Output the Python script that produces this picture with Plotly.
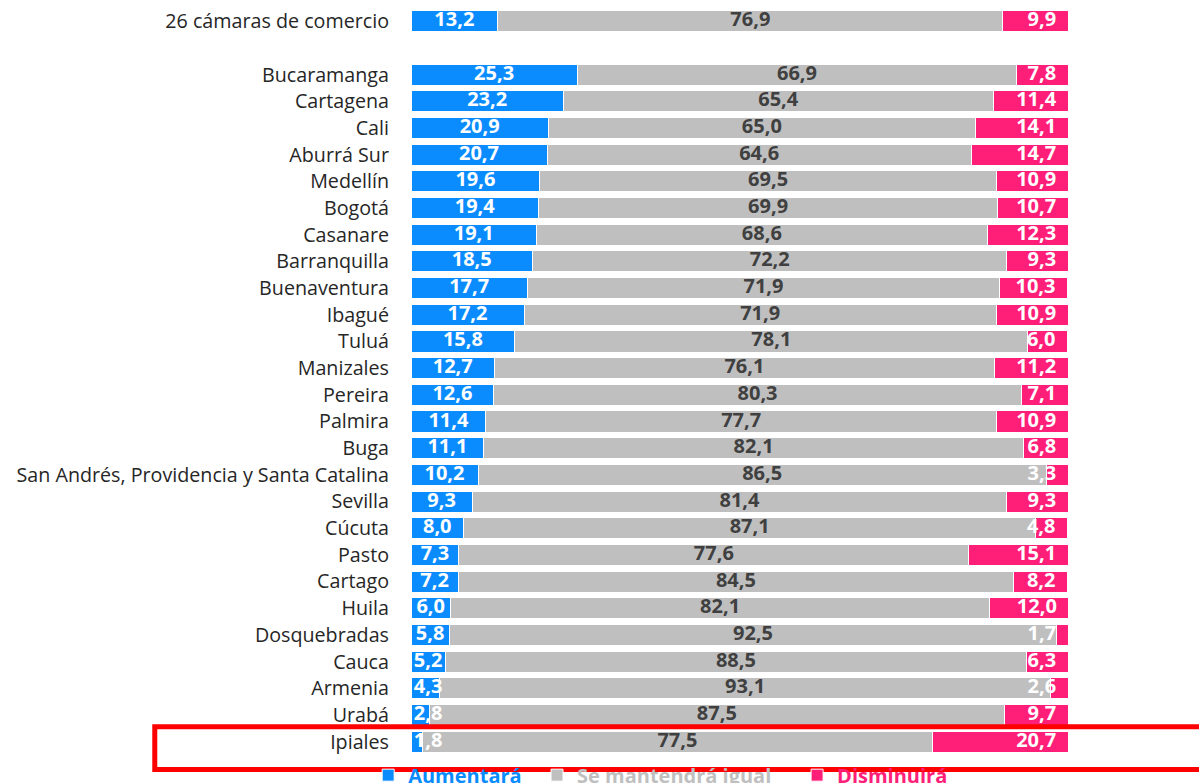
import plotly.graph_objects as go

categorias = ["26 cámaras de comercio", " ", "Bucaramanga", "Cartagena", "Cali", "Aburrá Sur",
              "Medellín", "Bogotá", "Casanare", "Barranquilla", "Buenaventura", "Ibagué",
              "Tuluá", "Manizales", "Pereira", "Palmira", "Buga",
              "San Andrés, Providencia y Santa Catalina", "Sevilla", "Cúcuta", "Pasto",
              "Cartago", "Huila", "Dosquebradas", "Cauca", "Armenia", "Urabá", "Ipiales"]
aumentara = [13.2, None, 25.3, 23.2, 20.9, 20.7, 19.6, 19.4, 19.1, 18.5, 17.7, 17.2, 15.8,
             12.7, 12.6, 11.4, 11.1, 10.2, 9.3, 8.0, 7.3, 7.2, 6.0, 5.8, 5.2, 4.3, 2.8, 1.8]
igual = [76.9, None, 66.9, 65.4, 65.0, 64.6, 69.5, 69.9, 68.6, 72.2, 71.9, 71.9, 78.1,
         76.1, 80.3, 77.7, 82.1, 86.5, 81.4, 87.1, 77.6, 84.5, 82.1, 92.5, 88.5, 93.1, 87.5, 77.5]
disminuira = [9.9, None, 7.8, 11.4, 14.1, 14.7, 10.9, 10.7, 12.3, 9.3, 10.3, 10.9, 6.0,
              11.2, 7.1, 10.9, 6.8, 3.3, 9.3, 4.8, 15.1, 8.2, 12.0, 1.7, 6.3, 2.6, 9.7, 20.7]
series = ["Aumentará", "Se mantendrá igual", "Disminuirá"]
colores = ["#0A8CFF", "#BFBFBF", "#FF1E78"]
resaltado = "Ipiales"

FONT = "Open Sans"
NBSP = "\u00a0"
relleno = [2, 4, 0]


def fmt(v):
    return "" if v is None else f"{v:.1f}".replace(".", ",")


fig = go.Figure()
for nombre, vals, col, pad in zip(series, [aumentara, igual, disminuira], colores, relleno):
    fig.add_trace(go.Bar(
        y=categorias, x=vals, orientation="h",
        name=f"<span style='color:{col}'><b>{nombre}</b></span>" + NBSP * pad,
        marker=dict(color=col, line=dict(color="white", width=1)),
        hoverinfo="skip"))

# value labels
idx = [i for i, v in enumerate(aumentara) if v is not None]
ys = [categorias[i] for i in idx]
x_a = [max(aumentara[i] / 2, 2.6) for i in idx]
x_g = [aumentara[i] + igual[i] / 2 for i in idx]
x_d = [aumentara[i] + igual[i] + disminuira[i] - 1.8 for i in idx]
lab_font = dict(family=FONT, size=20, weight="bold")
fig.add_trace(go.Scatter(y=ys, x=x_a, mode="text", text=[fmt(aumentara[i]) for i in idx],
                         textposition="middle center", showlegend=False, hoverinfo="skip",
                         textfont=dict(lab_font, color="white")))
fig.add_trace(go.Scatter(y=ys, x=x_g, mode="text", text=[fmt(igual[i]) for i in idx],
                         textposition="middle center", showlegend=False, hoverinfo="skip",
                         textfont=dict(lab_font, color="#404040")))
fig.add_trace(go.Scatter(y=ys, x=x_d, mode="text", text=[fmt(disminuira[i]) for i in idx],
                         textposition="middle left", showlegend=False, hoverinfo="skip",
                         textfont=dict(lab_font, color="white")))

n = len(categorias)
pos = categorias.index(resaltado)


def frac(r):
    # row index -> paper fraction (reversed category axis, range [-0.5, n-0.5])
    return (n - 0.5 - r) / n


fig.add_shape(type="rect", xref="paper", yref="paper",
              x0=-0.39, x1=1.3, y0=frac(pos + 1.04), y1=frac(pos - 0.56),
              line=dict(color="#FF0000", width=5), fillcolor="rgba(0,0,0,0)")

fig.update_layout(
    width=1199, height=783,
    barmode="stack", bargap=0.21,
    plot_bgcolor="white", paper_bgcolor="white",
    margin=dict(l=411, r=131, t=8, b=28, autoexpand=False),
    font=dict(family=FONT, size=20, color="#262626"),
    xaxis=dict(range=[0, 100], visible=False, fixedrange=True),
    yaxis=dict(range=[n - 0.5, -0.5], autorange=False, showgrid=False, showline=False,
               ticks="", ticklabelstandoff=21, fixedrange=True,
               tickfont=dict(family=FONT, size=19.7, color="#262626"), type="category"),
    showlegend=True,
    legend=dict(orientation="h", x=0.380, xanchor="center", y=-0.027, yanchor="middle",
                traceorder="normal", font=dict(family=FONT, size=20),
                itemwidth=30, bgcolor="rgba(0,0,0,0)"),
)

fig.write_html("out.html", config={"displayModeBar": False},
               post_script="document.body.style.margin='0';")
